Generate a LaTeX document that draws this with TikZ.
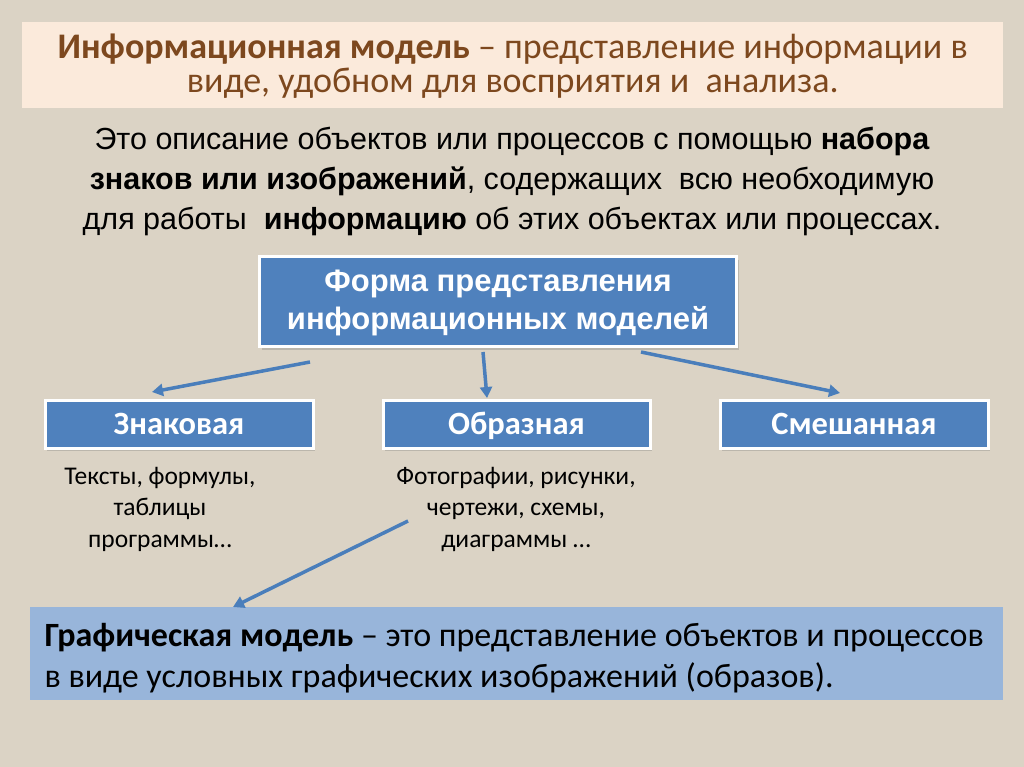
\documentclass[tikz,border=0pt]{standalone}
\usepackage{fontspec}
\setmainfont{Carlito}
\newfontfamily\arial{Liberation Sans}
\usetikzlibrary{shadows,arrows.meta}
\definecolor{bg}{RGB}{219,211,197}
\definecolor{peach}{RGB}{251,234,219}
\definecolor{brownt}{RGB}{125,72,30}
\definecolor{boxblue}{RGB}{79,129,189}
\definecolor{arrblue}{RGB}{74,126,187}
\definecolor{lightblue}{RGB}{152,181,218}
\tikzset{
  bluebox/.style={fill=boxblue, draw=white, line width=3pt, text=white,
    drop shadow={shadow xshift=2pt, shadow yshift=-3pt, opacity=0.35}},
  catbox/.style={bluebox, minimum height=48pt, inner sep=0pt,
    text height=21pt, text depth=0pt,
    font=\bfseries\fontsize{32.5}{34}\selectfont},
  subtext/.style={align=center, font=\fontsize{25.5}{31.5}\selectfont},
  conn/.style={draw=arrblue, line width=3.5pt, -{Triangle[length=11pt,width=12pt]}}
}
\begin{document}
\begin{tikzpicture}[x=1pt,y=-1pt]
\useasboundingbox (0,0) rectangle (1024,767);
\fill[bg] (0,0) rectangle (1024,767);
% title
\node[fill=peach, minimum width=981pt, minimum height=86pt, anchor=north west,
  inner sep=0pt] (titlebox) at (22,22) {};
\node[text=brownt, align=center, font=\fontsize{36}{33.5}\selectfont] (title) at ([yshift=-1pt]titlebox.center)
  {\textbf{Информационная модель} – представление информации в\\
   виде, удобном для восприятия и\ \ анализа.};
% paragraph
\node[align=center, font=\arial\fontsize{30.5}{40}\selectfont] (para) at (512,181)
  {Это описание объектов или процессов с помощью \textbf{набора}\\
   \textbf{знаков или изображений}, содержащих\ \ всю необходимую\\
   для работы\ \ \textbf{информацию} об этих объектах или процессах.};
% top box
\node[bluebox, minimum width=477pt, minimum height=90pt, anchor=north west, inner sep=0pt]
  (forma) at (258,255) {};
\node[text=white, align=center, font=\arial\bfseries\fontsize{31}{38}\selectfont] (formatext) at ([yshift=-1pt]forma.center)
  {Форма представления\\информационных моделей};
% three boxes
\node[catbox, minimum width=268pt] (znak) at (179,424) {Знаковая};
\node[catbox, minimum width=267pt] (obraz) at (516.5,424) {Образная};
\node[catbox, minimum width=268pt] (smesh) at (854,424) {Смешанная};
% sub texts
\node[subtext] (ztext) at (160,509) {Тексты, формулы,\\таблицы\\программы…};
\node[subtext] (otext) at (516,509) {Фотографии, рисунки,\\чертежи, схемы,\\диаграммы …};
% bottom box
\node[fill=lightblue, minimum width=973pt, minimum height=93pt, anchor=north west,
  inner sep=0pt] (graf) at (30,607) {};
\node[anchor=west, align=left, font=\fontsize{34}{41}\selectfont] (graftext) at ([xshift=11pt,yshift=-4pt]graf.west)
  {\textbf{Графическая модель} – это представление объектов и процессов\\
   в виде условных графических изображений (образов).};
% connectors
\coordinate (c1) at (310,362);
\coordinate (c2) at (483,352);
\coordinate (c3) at (641,352);
\coordinate (c4) at (408,521);
\coordinate (e1) at (152,392);
\coordinate (e2) at (487,398);
\coordinate (e3) at (840,393);
\coordinate (e4) at (233,607);
\draw[conn] (c1) -- (e1);
\draw[conn] (c2) -- (e2);
\draw[conn] (c3) -- (e3);
\draw[conn] (c4) -- (e4);
\end{tikzpicture}
\end{document}
